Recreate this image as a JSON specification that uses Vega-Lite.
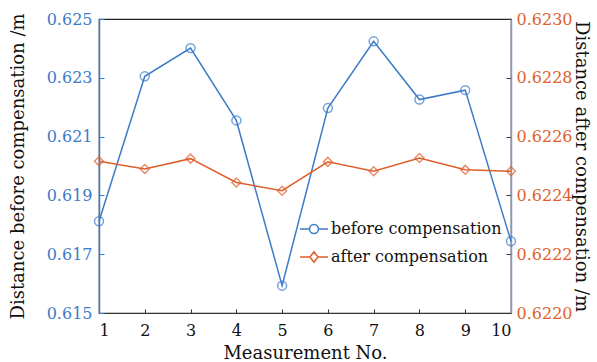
{
  "$schema": "https://vega.github.io/schema/vega-lite/v6.json",
  "width": 412,
  "height": 294,
  "autosize": {"type": "none"},
  "padding": {"left": 99, "top": 19, "right": 86, "bottom": 49},
  "background": "white",
  "config": {
    "font": "DejaVu Serif",
    "view": {"stroke": "#222222", "strokeWidth": 1.2},
    "axis": {"grid": false, "labelFontSize": 16, "titleFontSize": 18, "titleFontWeight": "normal", "titleColor": "#111111", "labelFont": "DejaVu Serif", "titleFont": "DejaVu Serif", "zindex": 1}
  },
  "data": {
    "values": [
      {"n": 1, "series": "before compensation", "value": 0.61812},
      {"n": 2, "series": "before compensation", "value": 0.62305},
      {"n": 3, "series": "before compensation", "value": 0.62401},
      {"n": 4, "series": "before compensation", "value": 0.62155},
      {"n": 5, "series": "before compensation", "value": 0.61593},
      {"n": 6, "series": "before compensation", "value": 0.62197},
      {"n": 7, "series": "before compensation", "value": 0.62424},
      {"n": 8, "series": "before compensation", "value": 0.62226},
      {"n": 9, "series": "before compensation", "value": 0.62258},
      {"n": 10, "series": "before compensation", "value": 0.61744},
      {"n": 1, "series": "after compensation", "value": 0.622516},
      {"n": 2, "series": "after compensation", "value": 0.62249},
      {"n": 3, "series": "after compensation", "value": 0.622525},
      {"n": 4, "series": "after compensation", "value": 0.622444},
      {"n": 5, "series": "after compensation", "value": 0.622416},
      {"n": 6, "series": "after compensation", "value": 0.622514},
      {"n": 7, "series": "after compensation", "value": 0.622482},
      {"n": 8, "series": "after compensation", "value": 0.622527},
      {"n": 9, "series": "after compensation", "value": 0.622487},
      {"n": 10, "series": "after compensation", "value": 0.622482}
    ]
  },
  "encoding": {
    "x": {
      "field": "n", "type": "quantitative",
      "scale": {"domain": [1, 10], "nice": false, "zero": false},
      "axis": {"values": [1,2,3,4,5,6,7,8,9,10], "title": "Measurement No.", "domainColor": "#333333", "tickColor": "#333333", "tickSize": -4, "labelPadding": 13, "labelColor": "#111111", "titlePadding": 6, "format": "d", "domainWidth": 1.2}
    },
    "color": {
      "field": "series", "type": "nominal",
      "scale": {"domain": ["before compensation", "after compensation"], "range": ["#3c7bc8", "#de5f2c"]},
      "legend": {
        "title": null, "orient": "none", "legendX": 200, "legendY": 195,
        "labelFontSize": 16, "labelColor": "#111111", "labelFont": "DejaVu Serif", "labelLimit": 0,
        "symbolSize": 784, "symbolStrokeWidth": 1.5, "labelOffset": 2, "rowPadding": 5,
        "symbolFillColor": "transparent",
        "encode": {"symbols": {"update": {"shape": {"signal": "datum.value === 'before compensation' ? 'M-1,0L-0.32,0M0.32,0L1,0M0.32,0A0.32,0.32,0,1,1,-0.32,0A0.32,0.32,0,1,1,0.32,0' : 'M-1,0L-0.29,0M0.29,0L1,0M0,-0.37L0.29,0L0,0.37L-0.29,0Z'"}, "fill": {"value": "transparent"}}}}
      }
    }
  },
  "layer": [
    {
      "transform": [{"filter": "datum.series === 'before compensation'"}],
      "encoding": {
        "y": {
          "field": "value", "type": "quantitative",
          "scale": {"domain": [0.615, 0.625], "nice": false, "zero": false},
          "axis": {"orient": "left", "values": [0.615, 0.617, 0.619, 0.621, 0.623, 0.625], "format": ".3f", "title": "Distance before compensation /m", "domainColor": "#3c7bc8", "tickColor": "#3c7bc8", "labelColor": "#3c7bc8", "tickSize": -5, "labelPadding": 12, "titleX": -72, "domainWidth": 1.5}
        }
      },
      "layer": [
        {"mark": {"type": "line", "strokeWidth": 1.5}},
        {"mark": {"type": "point", "shape": "circle", "filled": false, "size": 80, "strokeWidth": 1.5}}
      ]
    },
    {
      "transform": [{"filter": "datum.series === 'after compensation'"}],
      "encoding": {
        "y": {
          "field": "value", "type": "quantitative",
          "scale": {"domain": [0.622, 0.623], "nice": false, "zero": false},
          "axis": {"orient": "right", "values": [0.622, 0.6222, 0.6224, 0.6226, 0.6228, 0.623], "format": ".4f", "title": "Distance after compensation /m", "domainColor": "#8c90d0", "tickColor": "#333333", "labelColor": "#de5f2c", "tickSize": -5, "labelPadding": 10, "titleX": 60, "domainWidth": 1.5}
        }
      },
      "layer": [
        {"mark": {"type": "line", "strokeWidth": 1.5}},
        {"mark": {"type": "point", "shape": "diamond", "filled": false, "size": 80, "strokeWidth": 1.5}}
      ]
    }
  ],
  "resolve": {"scale": {"y": "independent"}}
}
